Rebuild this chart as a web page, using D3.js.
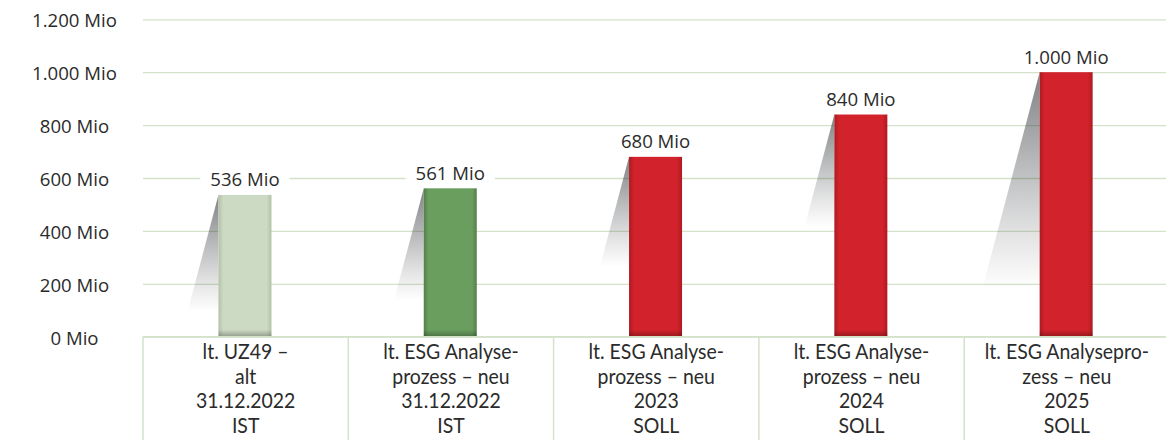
<!DOCTYPE html>
<html lang="de">
<head>
<meta charset="utf-8">
<script src="https://cdn.jsdelivr.net/npm/d3@7"></script>
<style>
  html, body { margin: 0; padding: 0; background: #fff; }
  svg { display: block; }
  text { font-family: "Open Sans", "Noto Sans", sans-serif; fill: #2b2b2b; }
  text.cat { font-family: Lato, "Open Sans", sans-serif; }
</style>
</head>
<body>
<svg id="chart" width="1166" height="440"></svg>
<script>
// Volumes in Mio, one bar per analysis stage
const categoryLines = [
  ["lt. UZ49 –", "alt", "31.12.2022", "IST"],
  ["lt. ESG Analyse-", "prozess – neu", "31.12.2022", "IST"],
  ["lt. ESG Analyse-", "prozess – neu", "2023", "SOLL"],
  ["lt. ESG Analyse-", "prozess – neu", "2024", "SOLL"],
  ["lt. ESG Analysepro-", "zess – neu", "2025", "SOLL"]
];
const values = [536, 561, 680, 840, 1000];
const yTicks = [0, 200, 400, 600, 800, 1000, 1200];

// Styling
const barColors = [
  { base: "#cddac3", edge: "#b2c1a7" },
  { base: "#6a9e5f", edge: "#537f49" },
  { base: "#d2222b", edge: "#ac1a21" },
  { base: "#d2222b", edge: "#ac1a21" },
  { base: "#d2222b", edge: "#ac1a21" }
];
const shadowLen = [117, 112, 110, 112, 218];
const shadowSlope = 0.265;
const gridColor = "#d4e2ca";

const width = 1166, height = 440;
const left = 143, right = 1166, colEnd = 1169.5;
const barW = 53;

const svg = d3.select("#chart");
const defs = svg.append("defs");

const y = d3.scaleLinear().domain([0, 1200]).range([336.7, 19.3]);
const x = d3.scaleBand().domain(d3.range(values.length)).range([left, colEnd]);
const barX = i => x(i) + x.bandwidth() / 2 - 0.7 - barW / 2;

const de = d3.formatLocale({ decimal: ",", thousands: ".", grouping: [3], currency: ["", " €"] });
const fmt = v => de.format(",")(v) + " Mio";

// gradients: bar bevel (horizontal), bar foot (vertical), drop shadow
barColors.forEach((c, i) => {
  const g = defs.append("linearGradient").attr("id", "bar" + i)
    .attr("x1", 0).attr("x2", 1).attr("y1", 0).attr("y2", 0);
  [[0, c.edge], [0.09, c.base], [0.91, c.base], [1, c.edge]].forEach(([o, col]) =>
    g.append("stop").attr("offset", o).attr("stop-color", col));
});
const foot = defs.append("linearGradient").attr("id", "foot")
  .attr("x1", 0).attr("x2", 0).attr("y1", 0).attr("y2", 1);
foot.append("stop").attr("offset", 0).attr("stop-color", "#000").attr("stop-opacity", 0);
foot.append("stop").attr("offset", 1).attr("stop-color", "#000").attr("stop-opacity", 0.28);

const shade = defs.append("linearGradient").attr("id", "shade")
  .attr("x1", 0).attr("x2", 0).attr("y1", 0).attr("y2", 1);
[[0, 0.56], [0.4, 0.32], [0.75, 0.12], [1, 0]].forEach(([o, a]) =>
  shade.append("stop").attr("offset", o).attr("stop-color", "#1c1f24").attr("stop-opacity", a));

// y axis with gridlines
const yAxis = svg.append("g")
  .attr("transform", `translate(${left},0)`)
  .call(d3.axisLeft(y).tickValues(yTicks).tickSize(-(right - left)).tickFormat(fmt));
yAxis.select(".domain").remove();
yAxis.selectAll(".tick line").attr("stroke", gridColor).attr("stroke-width", 1.3);
yAxis.selectAll(".tick text")
  .attr("x", 74.5 - left)
  .attr("dy", "7.4px")
  .attr("text-anchor", "middle")
  .style("font-size", "18.6px")
  .attr("fill", "#262626");

// drop shadows to the left of each bar
svg.append("g").selectAll("path").data(values).join("path")
  .attr("d", (v, i) => {
    const xl = barX(i), top = y(v), len = shadowLen[i];
    return `M${xl},${top}L${xl - len * shadowSlope},${top + len}L${xl},${top + len}Z`;
  })
  .attr("fill", "url(#shade)");

// bars
const bars = svg.append("g");
bars.selectAll("rect.bar").data(values).join("rect")
  .attr("class", "bar")
  .attr("x", (v, i) => barX(i))
  .attr("y", v => y(v))
  .attr("width", barW)
  .attr("height", v => y(0) - y(v))
  .attr("fill", (v, i) => `url(#bar${i})`);
bars.selectAll("rect.foot").data(values).join("rect")
  .attr("class", "foot")
  .attr("x", (v, i) => barX(i))
  .attr("y", y(0) - 7)
  .attr("width", barW)
  .attr("height", 7)
  .attr("fill", "url(#foot)");

// value labels on a white plate
const lab = svg.append("g").selectAll("g").data(values).join("g")
  .attr("transform", (v, i) => `translate(${barX(i) + barW / 2},${y(v) - 8.5})`);
lab.append("text")
  .attr("text-anchor", "middle")
  .style("font-size", "18.6px")
  .text(fmt);
lab.each(function () {
  const b = d3.select(this).select("text").node().getBBox();
  d3.select(this).insert("rect", "text")
    .attr("x", b.x - 10).attr("y", -17)
    .attr("width", b.width + 20).attr("height", 21)
    .attr("fill", "#fff");
});

// category table
const table = svg.append("g");
table.append("line")
  .attr("x1", left).attr("x2", right)
  .attr("y1", y(0)).attr("y2", y(0))
  .attr("stroke", gridColor).attr("stroke-width", 1.5);
table.selectAll("line.col").data(d3.range(values.length)).join("line")
  .attr("class", "col")
  .attr("x1", i => x(i)).attr("x2", i => x(i))
  .attr("y1", y(0)).attr("y2", height)
  .attr("stroke", gridColor).attr("stroke-width", 1.5);

// one text block per column, lines as tspans
table.selectAll("text.cat").data(categoryLines).join("text")
  .attr("class", "cat")
  .attr("transform", (d, i) => `translate(${x(i) + x.bandwidth() / 2},359) scale(0.95,1)`)
  .attr("text-anchor", "middle")
  .style("font-size", "20.5px")
  .selectAll("tspan").data(d => d).join("tspan")
    .attr("x", 0)
    .attr("y", (d, k) => k * 24.7)
    .text(d => d);
</script>
</body>
</html>
